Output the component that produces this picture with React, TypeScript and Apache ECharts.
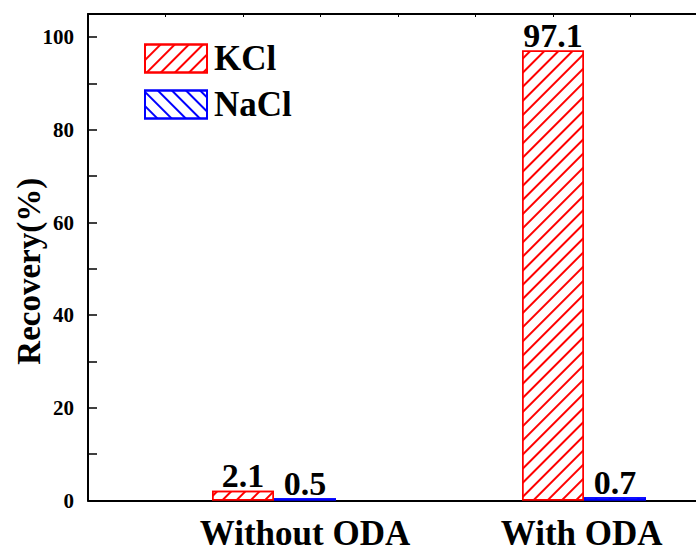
import React, { useEffect, useRef } from "react";
import * as echarts from "echarts";

const categories = ["Without ODA", "With ODA"];
const kclValues = [2.1, 97.1];
const naclValues = [0.5, 0.7];
const yTicks = [0, 20, 40, 60, 80, 100];

const FONT = "'Liberation Serif', 'Times New Roman', serif";

// layout on the numeric x axis (axis units)
const GROUP_START = 2;
const GROUP_STEP = 4;
const BAR_SPAN = 0.8;
const LABEL_SHIFT = [0.8, 0.37];

export default function App() {
  const ref = useRef<HTMLDivElement>(null);
  useEffect(() => {
    if (!ref.current) return;
    const chart = echarts.init(ref.current, undefined, { renderer: "svg" });
    const kclX = categories.map((_, i) => GROUP_START + GROUP_STEP * i);
    const naclX = kclX.map((x) => x + BAR_SPAN);
    const labelX = kclX.map((x, i) => +(x + LABEL_SHIFT[i]).toFixed(2));
    const labelStyle = {
      show: true,
      position: "top" as const,
      distance: -2,
      fontFamily: FONT,
      fontWeight: "bold" as const,
      fontSize: 34,
      color: "#000",
    };
    chart.setOption({
      animation: false,
      backgroundColor: "#fff",
      grid: {
        left: 88,
        top: 14,
        width: 697.5,
        height: 486.5,
        containLabel: false,
        outerBoundsMode: "none",
      },
      legend: {
        orient: "vertical",
        left: 144,
        top: 41,
        padding: 0,
        itemWidth: 62,
        itemHeight: 28,
        itemGap: 11,
        icon: "rect",
        textStyle: {
          fontFamily: FONT,
          fontWeight: "bold",
          fontSize: 35,
          color: "#000",
          padding: [0, 0, 0, 2],
        },
        data: ["KCl", "NaCl"],
      },
      xAxis: [
        {
          type: "value",
          position: "bottom",
          min: 0,
          max: 9,
          interval: 1,
          axisLine: { show: true, lineStyle: { color: "#000", width: 2 } },
          axisTick: { show: false },
          splitLine: { show: false },
          axisLabel: {
            show: true,
            customValues: labelX,
            margin: 15,
            fontFamily: FONT,
            fontWeight: "bold",
            fontSize: 35,
            lineHeight: 35,
            color: "#000",
            formatter: (v: number) => {
              let best = 0;
              labelX.forEach((x, i) => {
                if (Math.abs(x - v) < Math.abs(labelX[best] - v)) best = i;
              });
              return categories[best];
            },
          },
        },
        {
          type: "value",
          position: "top",
          min: 0,
          max: 9,
          interval: 1,
          axisLine: { show: true, lineStyle: { color: "#000", width: 2 } },
          axisTick: { show: true, inside: true, length: 3, lineStyle: { color: "#000", width: 1 } },
          axisLabel: { show: false },
          splitLine: { show: false },
        },
      ],
      yAxis: {
        type: "value",
        min: 0,
        max: 105,
        interval: 10,
        name: "Recovery(%)",
        nameLocation: "middle",
        nameGap: 43,
        nameMoveOverlap: false,
        nameTextStyle: {
          fontFamily: FONT,
          fontWeight: "bold",
          fontSize: 33,
          color: "#000",
          padding: [0, 28, 0, 0],
        },
        axisLine: { show: true, lineStyle: { color: "#000", width: 2 } },
        axisTick: { show: true, inside: true, length: 9, lineStyle: { color: "#000", width: 1.5 } },
        splitLine: { show: false },
        axisLabel: {
          margin: 14,
          fontFamily: FONT,
          fontWeight: "bold",
          fontSize: 21,
          color: "#000",
          formatter: (v: number) => (yTicks.includes(v) ? String(v) : ""),
        },
      },
      series: [
        {
          name: "KCl",
          type: "bar",
          xAxisIndex: 0,
          barWidth: 62,
          barGap: "-100%",
          data: kclX.map((x, i) => [x, kclValues[i]]),
          itemStyle: {
            color: "#fff",
            borderColor: "#ff0000",
            borderWidth: 1.5,
            decal: {
              symbol: "rect",
              symbolSize: 1,
              color: "#ff0000",
              dashArrayX: [1, 0],
              dashArrayY: [2, 8],
              rotation: -Math.PI / 4,
            },
          },
          label: labelStyle,
        },
        {
          name: "NaCl",
          type: "bar",
          xAxisIndex: 0,
          barWidth: 62,
          barGap: "-100%",
          data: naclX.map((x, i) => [x, naclValues[i]]),
          itemStyle: {
            color: "#fff",
            borderColor: "#0000ff",
            borderWidth: 1.5,
            decal: {
              symbol: "rect",
              symbolSize: 1,
              color: "#0000ff",
              dashArrayX: [1, 0],
              dashArrayY: [2, 8],
              rotation: Math.PI / 4,
            },
          },
          label: labelStyle,
        },
      ],
    });
    return () => chart.dispose();
  }, []);
  return <div ref={ref} style={{ width: 696, height: 552, position: "absolute", left: 0, top: 0 }} />;
}
